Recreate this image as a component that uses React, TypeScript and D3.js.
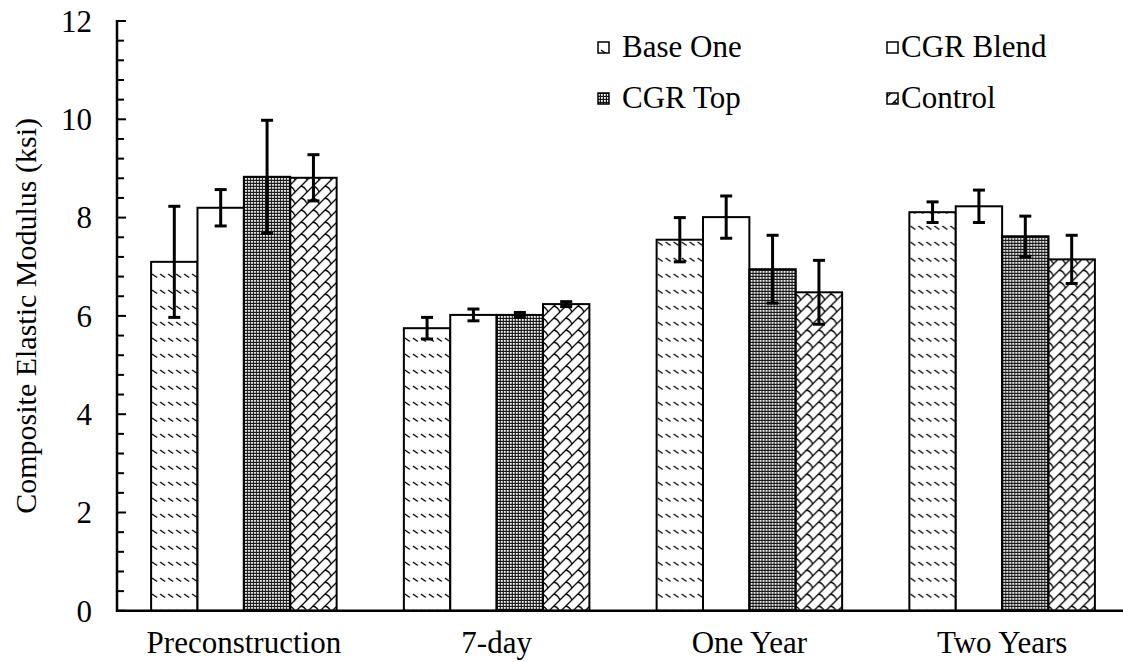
import React from "react";
import * as d3 from "d3";

const categories = ["Preconstruction", "7-day", "One Year", "Two Years"];
const seriesNames = ["Base One", "CGR Blend", "CGR Top", "Control"];
const baseOne = [7.1, 5.75, 7.55, 8.11];
const cgrBlend = [8.2, 6.02, 8.01, 8.23];
const cgrTop = [8.83, 6.02, 6.95, 7.62];
const control = [8.81, 6.24, 6.48, 7.15];
const baseOneErr = [1.13, 0.22, 0.45, 0.21];
const cgrBlendErr = [0.37, 0.12, 0.43, 0.33];
const cgrTopErr = [1.15, 0.05, 0.69, 0.41];
const controlErr = [0.47, 0.05, 0.65, 0.49];
const yTicks = [0, 2, 4, 6, 8, 10, 12];
const yLabel = "Composite Elastic Modulus (ksi)";

const seriesValues = [baseOne, cgrBlend, cgrTop, control];
const seriesErrs = [baseOneErr, cgrBlendErr, cgrTopErr, controlErr];
const fills = ["url(#patBase)", "#ffffff", "url(#patTop)", "url(#patControl)"];

const W = 1123;
const H = 662;
const FONT = "Liberation Serif, serif";
const textStyle = { fontFamily: FONT };

export default function App() {
  const y = d3.scaleLinear().domain([0, 12]).range([610.8, 21]);
  const x0 = d3
    .scaleBand<string>()
    .domain(categories)
    .range([117.5, 1128.5])
    .paddingInner(0.266)
    .paddingOuter(0.133);
  const x1 = d3
    .scaleBand<string>()
    .domain(seriesNames)
    .range([0, x0.bandwidth()]);
  const axisX = 117;
  const minorTicks = d3.range(0, 12.0001, 0.4);

  const legendCols = [598, 887];
  const legendTextX = [622, 901];
  const legendRows = [57, 108];

  return (
    <svg
      width={W}
      height={H}
      style={{ position: "absolute", left: 0, top: 0, background: "#fff" }}
    >
      <defs>
        <pattern id="patBase" patternUnits="userSpaceOnUse" width={8} height={16}>
          <rect width={8} height={16} fill="#fff" />
          <path d="M1,2 L6,5.5" stroke="#000" strokeWidth={1.3} />
        </pattern>
        <pattern id="patTop" patternUnits="userSpaceOnUse" width={3} height={3}>
          <rect width={3} height={3} fill="#1a1a1a" />
          <rect x={1} y={1} width={1.8} height={1.8} fill="#ffffff" />
        </pattern>
        <pattern id="patControl" patternUnits="userSpaceOnUse" width={12} height={12}>
          <rect width={12} height={12} fill="#fff" />
          <path
            d="M0,12 L12,0 M-1,1 L1,-1 M11,13 L13,11 M6,6 Q10,7 12,12"
            stroke="#000"
            strokeWidth={1.3}
            fill="none"
          />
        </pattern>
      </defs>

      {/* bars */}
      {categories.map((c, ci) => (
        <g key={c} transform={`translate(${x0(c)},0)`}>
          {seriesNames.map((s, si) => {
            const v = seriesValues[si][ci];
            return (
              <rect
                key={s}
                x={x1(s)}
                y={y(v)}
                width={x1.bandwidth()}
                height={y(0) - y(v)}
                fill={fills[si]}
                stroke="#000"
                strokeWidth={2}
              />
            );
          })}
        </g>
      ))}

      {/* error bars */}
      {categories.map((c, ci) => (
        <g key={c + "err"} transform={`translate(${x0(c)},0)`}>
          {seriesNames.map((s, si) => {
            const v = seriesValues[si][ci];
            const e = seriesErrs[si][ci];
            const cx = (x1(s) as number) + x1.bandwidth() / 2;
            const cap = 6;
            return (
              <g key={s} stroke="#000" strokeWidth={3}>
                <line x1={cx} x2={cx} y1={y(v + e)} y2={y(v - e)} />
                <line x1={cx - cap} x2={cx + cap} y1={y(v + e)} y2={y(v + e)} />
                <line x1={cx - cap} x2={cx + cap} y1={y(v - e)} y2={y(v - e)} />
              </g>
            );
          })}
        </g>
      ))}

      {/* y axis */}
      <line x1={axisX} x2={axisX} y1={y(12) - 1} y2={y(0) + 1} stroke="#000" strokeWidth={2.5} />
      {minorTicks.map((t) => {
        const major = Math.abs(t / 2 - Math.round(t / 2)) < 1e-6;
        return (
          <line
            key={t}
            x1={axisX}
            x2={axisX + (major ? 9 : 7)}
            y1={y(t)}
            y2={y(t)}
            stroke="#000"
            strokeWidth={2}
          />
        );
      })}
      {yTicks.map((t) => (
        <text
          key={t}
          x={92}
          y={y(t)}
          dy="0.35em"
          textAnchor="end"
          fontSize={31}
          fill="#000"
          style={textStyle}
        >
          {t}
        </text>
      ))}
      <text
        transform={`translate(36,${y(6)}) rotate(-90)`}
        textAnchor="middle"
        fontSize={30}
        fill="#000"
        style={textStyle}
      >
        {yLabel}
      </text>

      {/* x axis */}
      <line x1={axisX - 1} x2={W} y1={y(0)} y2={y(0)} stroke="#000" strokeWidth={2.5} />
      {categories.map((c) => (
        <text
          key={c}
          x={(x0(c) as number) + x0.bandwidth() / 2}
          y={653}
          textAnchor="middle"
          fontSize={31}
          fill="#000"
          style={textStyle}
        >
          {c}
        </text>
      ))}

      {/* legend */}
      {seriesNames.map((s, i) => {
        const col = i % 2;
        const row = Math.floor(i / 2);
        const bx = legendCols[col];
        const by = legendRows[row];
        return (
          <g key={s}>
            <rect
              x={bx}
              y={by - 15}
              width={11}
              height={11}
              fill={fills[i]}
              stroke="#000"
              strokeWidth={1.5}
            />
            <text x={legendTextX[col]} y={by} fontSize={31} fill="#000" style={textStyle}>
              {s}
            </text>
          </g>
        );
      })}
    </svg>
  );
}
